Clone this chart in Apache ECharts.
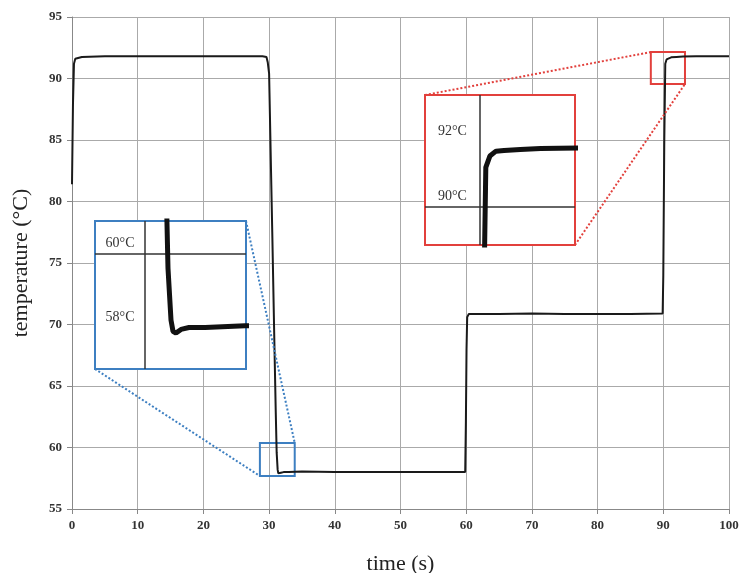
<!DOCTYPE html>
<html>
<head>
<meta charset="utf-8">
<script src="https://cdn.jsdelivr.net/npm/echarts@6/dist/echarts.min.js"></script>
<style>html,body{margin:0;padding:0;background:#fff}#c{width:739px;height:573px}</style>
</head>
<body>
<div id="c"></div>
<script>
// ---- data ----
var timeS = [0, 0.15, 0.3, 0.5, 0.8, 1.5, 5, 10, 15, 20, 25, 29.0, 29.6, 29.8, 30.0, 30.3, 30.5, 30.8, 31.0, 31.15, 31.3, 31.4, 31.55, 31.8, 32.2, 33, 35, 40, 45, 50, 55, 59.85, 59.95, 60.05, 60.15, 60.4, 65, 70, 75, 80, 85, 89.9, 90.0, 90.15, 90.3, 90.5, 90.8, 91.2, 92, 93, 95, 100];
var tempC = [81.4, 88.0, 91.2, 91.6, 91.7, 91.75, 91.8, 91.8, 91.8, 91.8, 91.8, 91.8, 91.75, 91.3, 90.4, 82.3, 77.0, 68.6, 63.2, 59.6, 58.2, 57.9, 57.85, 57.95, 58.0, 58.0, 58.05, 58.0, 58.0, 58.0, 58.0, 58.0, 62.0, 68.0, 70.6, 70.85, 70.85, 70.9, 70.85, 70.85, 70.85, 70.9, 74.0, 85.0, 91.2, 91.55, 91.7, 91.72, 91.75, 91.78, 91.8, 91.8];
var xTicks = [0, 10, 20, 30, 40, 50, 60, 70, 80, 90, 100];
var yTicks = [55, 60, 65, 70, 75, 80, 85, 90, 95];
// zoom windows: [tMin, tMax, TMin, TMax]
var blueBox = [28.6, 33.9, 57.68, 60.37];
var redBox = [88.1, 93.3, 89.55, 92.15];
// inset magnified ranges
var blueInsetX = [27.5, 35.05], blueInsetY = [56.88, 60.88];
var redInsetX = [87.3, 94.7], redInsetY = [88.81, 93.43];
var blueLabels = [['60°C', 60], ['58°C', 58]];
var redLabels = [['92°C', 92], ['90°C', 90]];

var pts = timeS.map(function (t, i) { return [t, tempC[i]]; });
var serif = 'Liberation Serif';
var BLUE = '#3d7fc1', RED = '#e2403c';

var chart = echarts.init(document.getElementById('c'));
function insetAxisX(g, r) { return {type: 'value', gridIndex: g, min: r[0], max: r[1], show: false}; }
function insetAxisY(g, r) { return {type: 'value', gridIndex: g, min: r[0], max: r[1], show: false}; }
function gLine(v, axis) { var o = {}; o[axis] = v; return o; }

chart.setOption({
  animation: false,
  grid: [
    {left: 72, right: 10, top: 17, bottom: 64, containLabel: false, outerBoundsMode: 'none'},
    {left: 95, top: 221, width: 151, height: 148, show: true, backgroundColor: '#fff', borderColor: BLUE, borderWidth: 2, z: 3, containLabel: false, outerBoundsMode: 'none'},
    {left: 425, top: 95, width: 150, height: 150, show: true, backgroundColor: '#fff', borderColor: RED, borderWidth: 2, z: 3, containLabel: false, outerBoundsMode: 'none'}
  ],
  xAxis: [
    {type: 'value', gridIndex: 0, min: xTicks[0], max: xTicks[xTicks.length - 1], interval: 10,
     name: 'time (s)', nameLocation: 'middle', nameGap: 44,
     nameTextStyle: {fontFamily: serif, fontSize: 22, color: '#222'},
     axisLine: {show: true, lineStyle: {color: '#888', width: 1}},
     axisTick: {show: true, length: 5, lineStyle: {color: '#888'}},
     axisLabel: {fontFamily: serif, fontSize: 13, fontWeight: 'bold', color: '#333', margin: 10},
     splitLine: {show: true, lineStyle: {color: '#aaa', width: 1}}},
    insetAxisX(1, blueInsetX), insetAxisX(2, redInsetX)
  ],
  yAxis: [
    {type: 'value', gridIndex: 0, min: yTicks[0], max: yTicks[yTicks.length - 1], interval: 5,
     name: 'temperature (°C)', nameLocation: 'middle', nameGap: 40, nameRotate: 90,
     nameTextStyle: {fontFamily: serif, fontSize: 22, color: '#222'},
     axisLine: {show: true, lineStyle: {color: '#888', width: 1}},
     axisTick: {show: true, length: 5, lineStyle: {color: '#888'}},
     axisLabel: {fontFamily: serif, fontSize: 13, fontWeight: 'bold', color: '#333', margin: 10},
     splitLine: {show: true, lineStyle: {color: '#aaa', width: 1}}},
    insetAxisY(1, blueInsetY), insetAxisY(2, redInsetY)
  ],
  series: [
    {type: 'line', xAxisIndex: 0, yAxisIndex: 0, data: pts, showSymbol: false, smooth: false,
     lineStyle: {color: '#1a1a1a', width: 2}, z: 2,
     markArea: {silent: true,
       itemStyle: {color: 'rgba(0,0,0,0)', borderWidth: 2},
       data: [
         [{coord: [blueBox[0], blueBox[3]], itemStyle: {borderColor: BLUE, color: 'rgba(0,0,0,0)', borderWidth: 2}}, {coord: [blueBox[1], blueBox[2]]}],
         [{coord: [redBox[0], redBox[3]], itemStyle: {borderColor: RED, color: 'rgba(0,0,0,0)', borderWidth: 2}}, {coord: [redBox[1], redBox[2]]}]
       ]}},
    {type: 'line', xAxisIndex: 1, yAxisIndex: 1, data: pts, showSymbol: false, clip: true,
     lineStyle: {color: '#111', width: 5}, z: 6,
     markLine: {silent: true, symbol: 'none', label: {show: false},
       lineStyle: {color: '#333', width: 1.5, type: 'solid'},
       data: [gLine(60, 'yAxis'), gLine(30, 'xAxis')]}},
    {type: 'line', xAxisIndex: 2, yAxisIndex: 2, data: pts, showSymbol: false, clip: true,
     lineStyle: {color: '#111', width: 5}, z: 6,
     markLine: {silent: true, symbol: 'none', label: {show: false},
       lineStyle: {color: '#333', width: 1.5, type: 'solid'},
       data: [gLine(90, 'yAxis'), gLine(90, 'xAxis')]}}
  ]
});

// connectors and inset labels, positioned through the scales
function px(gi, t, v) { return chart.convertToPixel({gridIndex: gi}, [t, v]); }
var g = [];
function dotted(a, b, col) {
  g.push({type: 'line', shape: {x1: a[0], y1: a[1], x2: b[0], y2: b[1]}, z: 10,
    style: {stroke: col, lineWidth: 2, lineDash: [2, 2]}});
}
dotted(px(1, blueInsetX[1], blueInsetY[1]), px(0, blueBox[1], blueBox[3]), BLUE);
dotted(px(1, blueInsetX[0], blueInsetY[0]), px(0, blueBox[0], blueBox[2]), BLUE);
dotted(px(2, redInsetX[0], redInsetY[1]), px(0, redBox[0], redBox[3]), RED);
dotted(px(2, redInsetX[1], redInsetY[0]), px(0, redBox[1], redBox[2]), RED);

function insetLabel(gi, xr, lab) {
  var p = px(gi, xr[0], lab[1]);
  var pv = px(gi, (gi === 1 ? 30 : 90), lab[1]);
  g.push({type: 'text', x: (p[0] + pv[0]) / 2, y: p[1] - 10, z: 12,
    style: {text: lab[0], fill: '#333', font: '14px "Liberation Serif"', align: 'center', verticalAlign: 'middle'}});
}
blueLabels.forEach(function (l) { insetLabel(1, blueInsetX, l); });
redLabels.forEach(function (l) { insetLabel(2, redInsetX, l); });
chart.setOption({graphic: g});
</script>
</body>
</html>
